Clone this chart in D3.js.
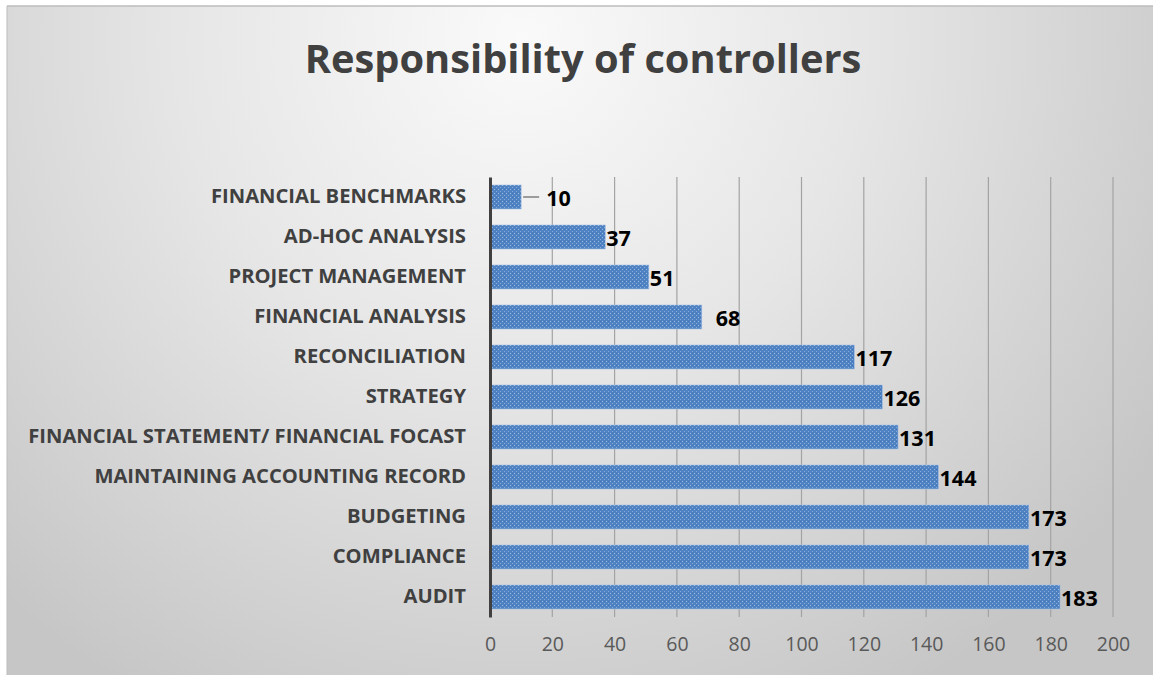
<!DOCTYPE html>
<html>
<head>
<meta charset="utf-8">
<script src="https://cdn.jsdelivr.net/npm/d3@7"></script>
<style>
  html, body { margin: 0; padding: 0; background: #ffffff; }
  svg { display: block; }
</style>
</head>
<body>
<svg width="1153" height="675"></svg>
<script>
// data, top to bottom as drawn
var categories = ["FINANCIAL BENCHMARKS", "AD-HOC ANALYSIS", "PROJECT MANAGEMENT",
  "FINANCIAL ANALYSIS", "RECONCILIATION ", "STRATEGY",
  "FINANCIAL STATEMENT/ FINANCIAL FOCAST", "MAINTAINING ACCOUNTING RECORD",
  "BUDGETING", "COMPLIANCE", "AUDIT"];
var values = [10, 37, 51, 68, 117, 126, 131, 144, 173, 173, 183];
var ticks = [0, 20, 40, 60, 80, 100, 120, 140, 160, 180, 200];
var title = "Responsibility of controllers";

var font = "'Open Sans', sans-serif";

var svg = d3.select("svg");
var defs = svg.append("defs");

// chart area background
var grad = defs.append("radialGradient")
  .attr("id", "bg")
  .attr("gradientUnits", "userSpaceOnUse")
  .attr("cx", 520).attr("cy", 40).attr("r", 760);
grad.append("stop").attr("offset", "0").attr("stop-color", "#fafafa");
grad.append("stop").attr("offset", "0.45").attr("stop-color", "#e6e6e6");
grad.append("stop").attr("offset", "1").attr("stop-color", "#c6c6c6");

// dotted bar texture
var pat = defs.append("pattern")
  .attr("id", "barfill")
  .attr("patternUnits", "userSpaceOnUse")
  .attr("width", 4).attr("height", 4);
pat.append("rect").attr("width", 4).attr("height", 4).attr("fill", "#4f82c3");
pat.append("rect").attr("x", 0).attr("y", 0).attr("width", 1).attr("height", 1).attr("fill", "#a0bde2");
pat.append("rect").attr("x", 2).attr("y", 2).attr("width", 1).attr("height", 1).attr("fill", "#88abd9");
pat.append("rect").attr("x", 2).attr("y", 0).attr("width", 1).attr("height", 1).attr("fill", "#4272b4");

svg.append("rect")
  .attr("x", 7).attr("y", 6)
  .attr("width", 1146).attr("height", 669)
  .attr("fill", "url(#bg)");
svg.append("line")
  .attr("x1", 7).attr("x2", 1153).attr("y1", 6).attr("y2", 6)
  .attr("stroke", "#bdbdbd").attr("stroke-width", 1.5);
svg.append("line")
  .attr("x1", 7).attr("x2", 7).attr("y1", 6).attr("y2", 675)
  .attr("stroke", "#bdbdbd").attr("stroke-width", 1);

// title
svg.append("text")
  .attr("x", 583).attr("y", 73)
  .attr("text-anchor", "middle")
  .attr("font-family", font)
  .attr("font-weight", "bold")
  .attr("font-size", 39.8)
  .attr("fill", "#404040")
  .text(title);

// SET UP CHART
var margin = { left: 490, right: 40, top: 177, bottom: 58 },
  width = 1113 - margin.left,
  height = 617 - margin.top;

var x = d3.scaleLinear().domain([0, 200]).range([0, width]);
var y = d3.scaleBand().domain(categories).range([0, height]).paddingInner(0.4).paddingOuter(0.2);

var g = svg.append("g")
  .attr("transform", "translate(" + margin.left + "," + margin.top + ")");

// grid
g.append("g")
  .selectAll("line")
  .data(ticks.slice(1))
  .enter().append("line")
  .attr("x1", function(d) { return x(d); })
  .attr("x2", function(d) { return x(d); })
  .attr("y1", 0).attr("y2", height)
  .attr("stroke", "#a3a3a3").attr("stroke-width", 1.2);

// x axis labels
var xAxis = g.append("g")
  .attr("transform", "translate(0," + height + ")")
  .call(d3.axisBottom(x).tickValues(ticks).tickSize(0).tickPadding(20));
xAxis.select(".domain").remove();
xAxis.selectAll("text")
  .attr("font-family", font)
  .attr("font-size", 19.5)
  .attr("fill", "#595959");

// bars
g.selectAll(".bar")
  .data(values)
  .enter().append("rect")
  .attr("class", "bar")
  .attr("x", 0)
  .attr("y", function(d, i) { return y(categories[i]); })
  .attr("width", function(d) { return x(d); })
  .attr("height", y.bandwidth())
  .attr("fill", "url(#barfill)")
  .attr("stroke", "#a9c1e3").attr("stroke-width", 0.6);

// y axis
var yAxis = g.append("g")
  .call(d3.axisLeft(y).tickSize(0).tickPadding(24));
yAxis.select(".domain")
  .attr("stroke", "#404040").attr("stroke-width", 3);
yAxis.selectAll("text")
  .attr("font-family", font)
  .attr("font-weight", "bold")
  .attr("font-size", 20.2)
  .attr("fill", "#404040");

// value labels (a couple were dragged aside in the original)
var shift = { "FINANCIAL BENCHMARKS": 24, "FINANCIAL ANALYSIS": 13 };
g.selectAll(".lab")
  .data(values)
  .enter().append("text")
  .attr("class", "lab")
  .attr("x", function(d, i) { return x(d) + 1 + (shift[categories[i]] || 0); })
  .attr("y", function(d, i) { return y(categories[i]) + y.bandwidth() / 2 + 1; })
  .attr("dy", "0.35em")
  .attr("font-family", font)
  .attr("font-weight", "bold")
  .attr("font-size", 21.5)
  .attr("fill", "#000000")
  .text(function(d) { return d; });

// leader line for the small bar
g.append("line")
  .attr("x1", x(values[0]) + 2).attr("x2", x(values[0]) + 18)
  .attr("y1", y(categories[0]) + y.bandwidth() / 2)
  .attr("y2", y(categories[0]) + y.bandwidth() / 2)
  .attr("stroke", "#7f7f7f").attr("stroke-width", 1.5);
</script>
</body>
</html>
